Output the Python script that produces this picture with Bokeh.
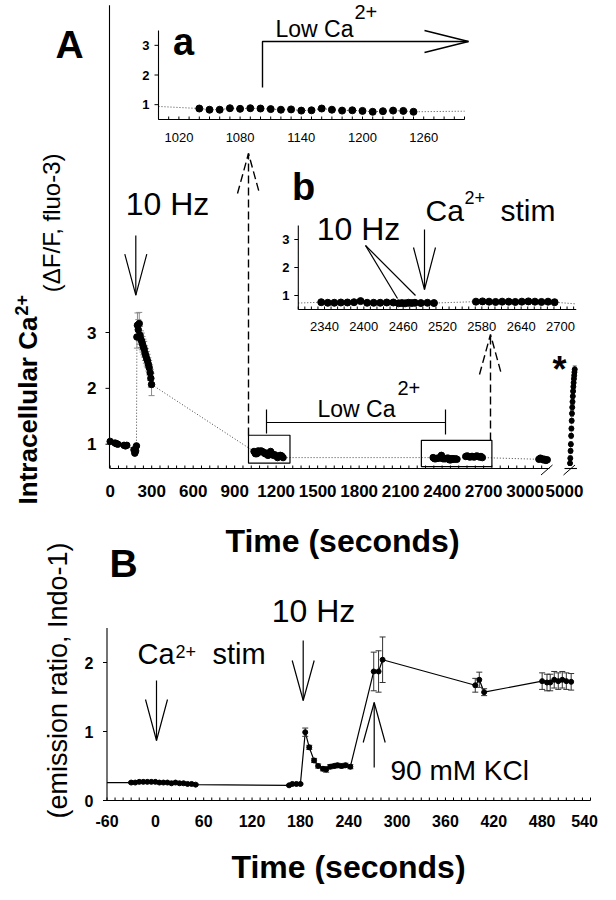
import numpy as np
from bokeh.plotting import figure
from bokeh.models import Range1d
from bokeh.core.properties import value
from bokeh.embed import file_html
from bokeh.resources import INLINE

FONT = "Liberation Sans"

# ---------------- data ----------------
# Panel A main trace (fluo-3, dF/F) -- time in s
a_pre_t = [0, 35, 45, 55, 100, 110, 120, 172, 178, 184, 190]
a_pre_v = [1.05, 1.02, 1.01, 1.00, 0.98, 0.97, 0.98, 0.90, 0.84, 0.88, 0.97]
a_peak_t = [193, 197, 203, 210, 216, 222, 228, 234, 240, 246, 252, 258, 264, 270, 276, 282, 289, 294, 299]
a_peak_v = [2.92, 3.13, 3.05, 3.16, 2.95, 2.88, 2.84, 2.79, 2.74, 2.70, 2.63, 2.58, 2.53, 2.49, 2.43, 2.37, 2.28, 2.18, 2.07]
a_peak_err = [0.20, 0.22, 0.18, 0.20, 0.16, 0.15, 0.15, 0.14, 0.14, 0.14, 0.13, 0.13, 0.13, 0.12, 0.12, 0.13, 0.14, 0.16, 0.20]
# inset a (start of low Ca2+)
ia_t = [1040, 1050, 1060, 1070, 1080, 1090, 1100, 1110, 1120, 1130, 1140,
        1150, 1160, 1170, 1180, 1190, 1200, 1210, 1220, 1230, 1240, 1250]
ia_v = [0.87, 0.83, 0.83, 0.88, 0.86, 0.88, 0.87, 0.85, 0.83, 0.84, 0.80,
        0.81, 0.87, 0.83, 0.80, 0.81, 0.79, 0.76, 0.78, 0.80, 0.79, 0.76]
ia_edge_t = [1000, 1300]
ia_edge_v = [0.94, 0.78]
# inset b (10 Hz and Ca2+ stim in low Ca2+)
ib1_t = [2335, 2345, 2355, 2365, 2375, 2385, 2395, 2405, 2415, 2425, 2435,
         2445, 2453, 2458, 2463, 2468, 2473, 2478, 2487, 2497, 2507]
ib1_v = [0.76, 0.74, 0.74, 0.75, 0.75, 0.76, 0.80, 0.74, 0.74, 0.74, 0.75,
         0.75, 0.72, 0.73, 0.72, 0.74, 0.73, 0.74, 0.73, 0.74, 0.73]
ib2_t = [2571, 2581, 2591, 2601, 2611, 2621, 2631, 2641, 2651, 2661, 2671, 2681, 2691]
ib2_v = [0.78, 0.79, 0.78, 0.77, 0.78, 0.78, 0.77, 0.78, 0.79, 0.78, 0.77, 0.78, 0.76]
ib_edge_t = [2300, 2724]
ib_edge_v = [0.73, 0.70]
# points near 3000 s and the column after the axis break (5000 s)
a_late_t = [3100, 3110, 3120, 3130, 3140, 3150, 3160]
a_late_v = [0.73, 0.75, 0.74, 0.72, 0.73, 0.71, 0.72]
a_k_t = [5040, 5042, 5044, 5046, 5048, 5050, 5052, 5054, 5056, 5058, 5060, 5062, 5064, 5066, 5068, 5070, 5072, 5074]
a_k_v = [0.66, 0.75, 0.88, 1.00, 1.15, 1.28, 1.42, 1.55, 1.66, 1.76, 1.86, 1.95, 2.03, 2.10, 2.17, 2.23, 2.29, 2.34]
a_k_err = [0.04, 0.04, 0.04, 0.04, 0.04, 0.04, 0.04, 0.05, 0.05, 0.05, 0.05, 0.05, 0.05, 0.05, 0.05, 0.05, 0.05, 0.06]
# zoom windows drawn as boxes on the main trace (t0, t1, v0, v1)
box_a = (1000, 1300, 0.66, 1.16)
box_b = (2250, 2760, 0.60, 1.07)

# Panel B (Indo-1 emission ratio)
b_t = [-60, -30, -25, -20, -15, -10, -5, 0, 5, 10, 15, 20, 25, 30, 35, 40, 45, 50,
       166, 170, 175, 180, 186, 191, 197, 202, 208, 212, 217, 222, 226, 231, 236, 242,
       271, 277, 282, 397, 402, 408, 480, 486, 490, 495, 500, 505, 510, 516]
b_v = [0.26, 0.26, 0.26, 0.27, 0.27, 0.27, 0.27, 0.27, 0.26, 0.26, 0.26, 0.25, 0.26, 0.25, 0.25, 0.24, 0.24, 0.23,
       0.22, 0.24, 0.24, 0.24, 0.99, 0.77, 0.58, 0.50, 0.46, 0.45, 0.49, 0.50, 0.51, 0.50, 0.51, 0.49,
       1.87, 1.87, 2.04, 1.67, 1.75, 1.57, 1.73, 1.71, 1.71, 1.75, 1.73, 1.75, 1.73, 1.72]
b_err = [0, 0.01, 0.01, 0.01, 0.01, 0.01, 0.01, 0.01, 0.01, 0.01, 0.01, 0.01, 0.01, 0.01, 0.01, 0.01, 0.01, 0.01,
         0.01, 0.01, 0.01, 0.01, 0.06, 0.03, 0.03, 0.03, 0.03, 0.04, 0.03, 0.03, 0.03, 0.03, 0.03, 0.03,
         0.28, 0.30, 0.33, 0.10, 0.11, 0.05, 0.12, 0.12, 0.12, 0.12, 0.12, 0.12, 0.12, 0.12]

# tick labels
a_xticks = [0, 300, 600, 900, 1200, 1500, 1800, 2100, 2400, 2700, 3000]
a_xticks_break = [5000]
a_yticks = [1, 2, 3]
ia_xticks = [1020, 1080, 1140, 1200, 1260]
ib_xticks = [2340, 2400, 2460, 2520, 2580, 2640, 2700]
in_yticks = [1, 2, 3]
b_xticks = [-60, 0, 60, 120, 180, 240, 300, 360, 420, 480, 540]
b_yticks = [0, 1, 2]

# ---------------- one canvas in page-pixel coordinates ----------------
W, H = 600, 884
p = figure(width=W, height=H, x_range=Range1d(8, 8 + W), y_range=Range1d(8 + H, 8),
           output_backend="svg", toolbar_location=None, x_axis_type=None, y_axis_type=None,
           min_border=0, outline_line_color=None, title=None)


def xr(d0, p0, d1, p1):
    s = (d1 - d0) / (p1 - p0)
    return Range1d(start=d0 + (8 - p0) * s, end=d0 + (8 + W - p0) * s)


def yr(d0, p0, d1, p1):
    s = (d1 - d0) / (p1 - p0)
    return Range1d(start=d0 + (8 + H - p0) * s, end=d0 + (8 - p0) * s)


p.extra_x_ranges = {
    "ax": xr(0, 117.7, 2700, 491.1),
    "ax2": xr(5000, 572, 5300, 613.5),
    "iax": xr(1000, 166, 1300, 472),
    "ibx": xr(2340, 332, 2700, 568),
    "bx": xr(-60, 114.5, 540, 598),
}
p.extra_y_ranges = {
    "ay": yr(1, 451.7, 3, 340),
    "iay": yr(0.5, 127, 3.5, 38),
    "iby": yr(0.5, 317, 3.5, 233),
    "by": yr(0, 808, 2, 670),
}

MID = 0.35  # the "middle" anchor sits this many em above the alphabetic baseline


def seg(x0, y0, x1, y1, xn="default", yn="default", color="black", width=1.2, dash="solid"):
    p.segment(x0=list(x0), y0=list(y0), x1=list(x1), y1=list(y1), x_range_name=xn, y_range_name=yn,
              line_color=color, line_width=width, line_dash=dash)


def poly(xs, ys, xn="default", yn="default", color="black", width=1.2, dash="solid"):
    p.line(x=list(xs), y=list(ys), x_range_name=xn, y_range_name=yn,
           line_color=color, line_width=width, line_dash=dash)


def txt(x, y, s, size, bold=False, align="left", angle=0.0, xn="default", yn="default",
        x_off=0, y_off=0):
    """Text anchored at its vertical middle (baseline 'middle')."""
    xs = list(x) if isinstance(x, (list, tuple, np.ndarray)) else [x]
    ys = list(y) if isinstance(y, (list, tuple, np.ndarray)) else [y] * len(xs)
    ss = list(s) if isinstance(s, (list, tuple)) else [s]
    p.text(x=xs, y=ys, text=ss, x_range_name=xn, y_range_name=yn,
           text_font=value(FONT), text_font_size=value(f"{size}px"),
           text_font_style="bold" if bold else "normal", text_color="black",
           text_align=align, text_baseline="middle", angle=angle,
           x_offset=x_off, y_offset=y_off)


def btxt(x, base, s, size, **kw):
    """Text placed by its alphabetic baseline (page pixels)."""
    txt(x, base - MID * size, s, size, **kw)


def arrow(x, y_tail, y_tip, dash="solid", width=1.2, hw=11, hl=41):
    d = 1 if y_tip > y_tail else -1
    seg([x], [y_tail], [x], [y_tip], dash=dash, width=width)
    poly([x - hw, x, x + hw], [y_tip - d * hl, y_tip, y_tip - d * hl], dash=dash, width=width)


def xaxis(xn, lo, hi, py, minor, ticks, labels, lab_base, size, bold):
    seg([lo], [py], [hi], [py], xn=xn, width=1.1)
    mt = np.arange(lo, hi + 0.01, minor)
    p.segment(x0=mt, y0=[py] * len(mt), x1=mt, y1=[py - 3] * len(mt), x_range_name=xn,
              line_color="black", line_width=1)
    txt(list(ticks), lab_base - MID * size, labels, size, bold=bold, align="center", xn=xn)


def yaxis(yn, lo, hi, px, ticks, lab_x, size, bold):
    seg([px], [lo], [px], [hi], yn=yn, width=1.1)
    t = list(ticks)
    p.segment(x0=[px - 4] * len(t), y0=t, x1=[px] * len(t), y1=t, y_range_name=yn,
              line_color="black", line_width=1)
    txt([lab_x] * len(t), t, [str(v) for v in t], size, bold=bold, align="right", yn=yn)


def errbars(t, v, e, xn, yn, color, cap=6):
    t = np.array(t, float); v = np.array(v, float); e = np.array(e, float)
    p.segment(x0=t, y0=v - e, x1=t, y1=v + e, x_range_name=xn, y_range_name=yn,
              line_color=color, line_width=1)
    p.scatter(x=np.r_[t, t], y=np.r_[v - e, v + e], marker="dash", size=cap,
              line_color=color, line_width=1, x_range_name=xn, y_range_name=yn)


# ---------------- Panel A : main trace ----------------
a_all_t = a_pre_t + a_peak_t + ia_t + ib1_t + ib2_t + a_late_t
a_all_v = a_pre_v + a_peak_v + ia_v + ib1_v + ib2_v + a_late_v
poly(a_all_t, a_all_v, xn="ax", yn="ay", color="#444444", width=1, dash="1 2")
errbars(a_peak_t, a_peak_v, a_peak_err, "ax", "ay", "#8a8a8a")
p.scatter(a_all_t, a_all_v, size=6.5, color="black", x_range_name="ax", y_range_name="ay")
poly(a_k_t, a_k_v, xn="ax2", yn="ay", color="#444444", width=1, dash="1 2")
errbars(a_k_t, a_k_v, a_k_err, "ax2", "ay", "#555555", cap=4)
p.scatter(a_k_t, a_k_v, size=5, color="black", x_range_name="ax2", y_range_name="ay")
for bx in (box_a, box_b):
    p.quad(left=[bx[0]], right=[bx[1]], bottom=[bx[2]], top=[bx[3]], fill_color=None,
           line_color="black", line_width=1.2, x_range_name="ax", y_range_name="ay")

xaxis("ax", 0, 3176, 476, 60, a_xticks, [str(v) for v in a_xticks], 504, 17, True)
seg([5000], [476], [5090], [476], xn="ax2", width=1.1)
txt(a_xticks_break, 504 - MID * 17, [str(v) for v in a_xticks_break], 17, bold=True,
    align="center", xn="ax2")
seg([548.5, 571], [482.5, 482.5], [560, 582.5], [472.5, 472.5], width=1)
yaxis("ay", 0.565, 8.86, 117, a_yticks, 104, 17, True)

# ---------------- inset a ----------------
poly([ia_edge_t[0]] + ia_t + [ia_edge_t[1]], [ia_edge_v[0]] + ia_v + [ia_edge_v[1]],
     xn="iax", yn="iay", color="#444444", width=1, dash="1 2")
p.scatter(ia_t, ia_v, size=7, color="black", x_range_name="iax", y_range_name="iay")
xaxis("iax", 1000, 1300, 127, 10, ia_xticks, [str(v) for v in ia_xticks], 149.5, 13, False)
yaxis("iay", 0.5, 3.5, 166, in_yticks, 157, 13, True)

# ---------------- inset b ----------------
ib_t = ib1_t + ib2_t
ib_v = ib1_v + ib2_v
poly([ib_edge_t[0]] + ib_t + [ib_edge_t[1]], [ib_edge_v[0]] + ib_v + [ib_edge_v[1]],
     xn="ibx", yn="iby", color="#444444", width=1, dash="1 2")
p.scatter(ib_t, ib_v, size=7, color="black", x_range_name="ibx", y_range_name="iby")
xaxis("ibx", 2300, 2724, 317, 10, ib_xticks, [str(v) for v in ib_xticks], 339, 13, False)
yaxis("iby", 0.5, 3.5, 305.8, in_yticks, 297, 13, True)

# ---------------- Panel B ----------------
poly(b_t, b_v, xn="bx", yn="by", color="black", width=1.2)
errbars(b_t[1:], b_v[1:], b_err[1:], "bx", "by", "#333333", cap=6)
p.scatter(b_t[1:], b_v[1:], size=5, color="black", x_range_name="bx", y_range_name="by")
xaxis("bx", -60, 540, 808, 10, b_xticks[:-1], [str(v) for v in b_xticks[:-1]], 834, 16, True)
txt([b_xticks[-1]], 834 - MID * 16, [str(b_xticks[-1])], 16, bold=True, align="center",
    xn="bx", x_off=-6)
yaxis("by", 0, 2.5, 114.5, b_yticks, 101, 16, True)

# ---------------- annotations (page pixels) ----------------
arrow(256, 443, 161, dash="8 4", width=1.4, hw=11, hl=40)
arrow(498, 448, 342, dash="8 4", width=1.4, hw=11, hl=40)
# A: 10 Hz
btxt(175, 223, "10 Hz", 32, align="center")
arrow(143.3, 243, 302.7, hl=41)
# A: Low Ca2+ bracket
btxt(325, 425, "Low Ca", 23)
btxt(405, 402, "2+", 20)
seg([274, 274, 453], [430, 417, 417], [453, 274, 453], [430, 441, 442], width=1.2)
# inset a: Low Ca2+ step arrow
btxt(283, 45, "Low Ca", 23)
btxt(362, 26, "2+", 20)
poly([270, 270, 476], [95, 49, 49], width=1.4)
poly([432, 476, 432], [38, 49, 60], width=1.4)
# inset b labels
btxt(366, 248, "10 Hz", 32, align="center")
seg([373, 373], [253, 253], [405, 423], [306, 303], width=1.2)
btxt(433, 228, "Ca", 30)
btxt(472, 211, "2+", 18)
btxt(508, 228, "stim", 30)
arrow(432, 237, 297, hl=42)
# asterisk
txt(567, 377, "*", 36, bold=True, align="center")
# panel letters
btxt(77, 66, "A", 39, bold=True, align="center")
btxt(191, 63, "a", 38, bold=True, align="center")
btxt(311, 208, "b", 38, bold=True, align="center")
btxt(131, 585, "B", 39, bold=True, align="center")
# B annotations
btxt(145, 672, "Ca", 29)
btxt(183, 665, "2+", 18)
btxt(220, 672, "stim", 29)
arrow(164, 688, 748, hl=41)
btxt(321, 630, "10 Hz", 32, align="center")
arrow(310.7, 648, 708, hl=40)
btxt(398, 788, "90 mM KCl", 28)
arrow(381.7, 775, 710, hl=40)
# axis titles
btxt(350, 560, "Time (seconds)", 32, bold=True, align="center")
btxt(356, 886, "Time (seconds)", 32, bold=True, align="center")
txt(35, 418, "Intracellular Ca", 26, bold=True, align="center", angle=np.pi / 2)
txt(29, 323, "2+", 18, bold=True, align="left", angle=np.pi / 2)
txt(59, 227, "(\u0394F/F,  fluo-3)", 24, align="center", angle=np.pi / 2)
txt(65, 688, "(emission ratio, Indo-1)", 27, align="center", angle=np.pi / 2)

open("out.html", "w").write(file_html(p, INLINE))
